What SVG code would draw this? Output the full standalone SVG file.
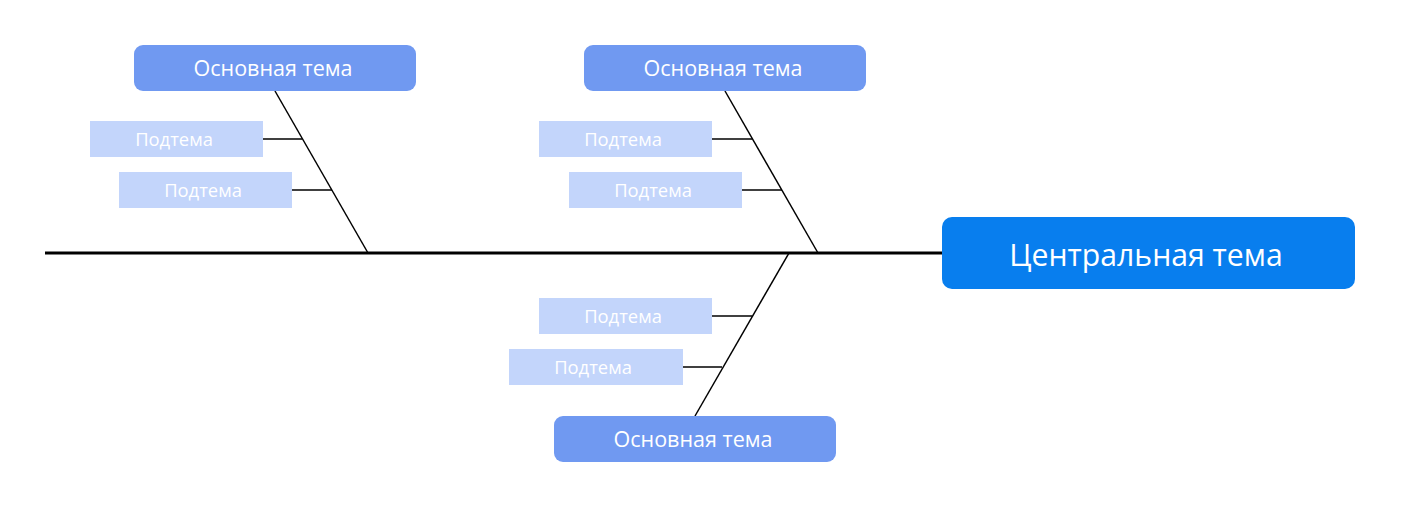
<svg xmlns="http://www.w3.org/2000/svg" width="1401" height="522" viewBox="0 0 1401 522">
<style>
.main rect{fill:#7099F1;}
.sub rect{fill:#C3D5FB;}
.central rect{fill:#087EEE;}
text{font-family:"Open Sans","Noto Sans","Liberation Sans",sans-serif;fill:#fff;text-anchor:middle;}
.main text{font-size:21.5px;}
.sub text{font-size:18.4px;}
.central text{font-size:30.2px;}
.bones line{stroke:#000;stroke-width:1.5;fill:none;}
.bones .spine{stroke-width:3;}
</style>
<rect width="1401" height="522" fill="#fff"/>
<g class="bones" id="connectors">
<line class="spine" x1="45" y1="253" x2="942" y2="253"/>
<line x1="275" y1="91" x2="368" y2="253"/>
<line x1="263" y1="139" x2="302" y2="139"/>
<line x1="292" y1="190" x2="332" y2="190"/>
<line x1="725" y1="91" x2="818" y2="253"/>
<line x1="712" y1="139" x2="752" y2="139"/>
<line x1="742" y1="190" x2="782" y2="190"/>
<line x1="789" y1="253" x2="695" y2="416"/>
<line x1="712" y1="316" x2="752" y2="316"/>
<line x1="683" y1="367" x2="722" y2="367"/>
</g>
<g id="central" class="central"><rect x="942" y="217" width="413" height="72" rx="10"/><text x="1146" y="266">Центральная тема</text></g>
<g id="main1" class="main"><rect x="134" y="45" width="282" height="46" rx="9"/><text x="273" y="76">Основная тема</text></g>
<g id="main2" class="main"><rect x="584" y="45" width="282" height="46" rx="9"/><text x="723" y="76">Основная тема</text></g>
<g id="main3" class="main"><rect x="554" y="416" width="282" height="46" rx="9"/><text x="693" y="447">Основная тема</text></g>
<g id="sub1a" class="sub"><rect x="90" y="121" width="173" height="36"/><text x="174" y="146">Подтема</text></g>
<g id="sub1b" class="sub"><rect x="119" y="172" width="173" height="36"/><text x="203" y="197">Подтема</text></g>
<g id="sub2a" class="sub"><rect x="539" y="121" width="173" height="36"/><text x="623" y="146">Подтема</text></g>
<g id="sub2b" class="sub"><rect x="569" y="172" width="173" height="36"/><text x="653" y="197">Подтема</text></g>
<g id="sub3a" class="sub"><rect x="539" y="298" width="173" height="36"/><text x="623" y="323">Подтема</text></g>
<g id="sub3b" class="sub"><rect x="509" y="349" width="174" height="36"/><text x="593" y="374">Подтема</text></g>
</svg>
